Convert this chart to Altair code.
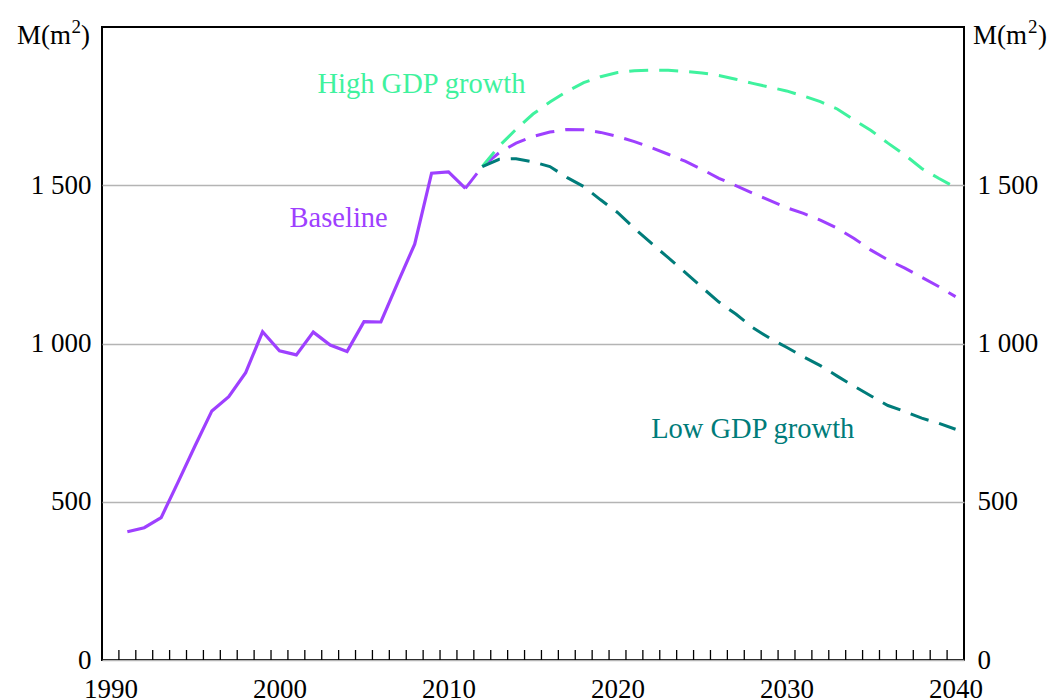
import altair as alt
import pandas as pd

# ---- data ----
hist_years = list(range(1991, 2012))
baseline_hist = [405, 418, 450, 562, 676, 787, 832, 908, 1037, 977, 964,
                 1036, 995, 975, 1069, 1068, 1192, 1314, 1538, 1542, 1490]

proj_years = list(range(2012, 2041))
baseline_proj = [1559, 1603, 1633, 1654, 1668, 1676, 1675, 1667, 1654, 1638,
                 1619, 1598, 1576, 1550, 1522, 1499, 1475, 1452, 1429, 1411,
                 1390, 1364, 1332, 1295, 1264, 1238, 1209, 1180, 1148]
high_proj = [1559, 1624, 1677, 1725, 1763, 1796, 1824, 1843, 1856, 1862,
             1864, 1863, 1860, 1855, 1847, 1835, 1822, 1810, 1798, 1782,
             1764, 1741, 1706, 1673, 1633, 1596, 1553, 1522, 1493]
low_proj = [1559, 1582, 1584, 1574, 1559, 1525, 1496, 1454, 1414, 1364,
            1317, 1271, 1225, 1177, 1131, 1093, 1050, 1017, 988, 958,
            930, 897, 865, 834, 804, 785, 764, 748, 729]

series_names = ["Baseline", "High GDP growth", "Low GDP growth"]
y_tick_values = [0, 500, 1000, 1500]
x_label_years = [1990, 2000, 2010, 2020, 2030, 2040]
minor_tick_years = list(range(1991, 2041))
unit_main = "M(m"
unit_sup = "2"
unit_close = ")"

annot_text = ["High GDP growth", "Baseline", "Low GDP growth"]
annot_year = [2008.9, 2004.0, 2028.5]
annot_value = [1791, 1367, 700]

# ---- styling ----
W, H = 862, 633
FONT = "Liberation Serif"
FS = 27
FS_ANNOT = 28.5
PURPLE, GREEN, TEAL = "#9E40FF", "#3FF29E", "#007C7A"
series_colors = [PURPLE, GREEN, TEAL]
annot_colors = [GREEN, PURPLE, TEAL]

hist_df = pd.DataFrame({"year": hist_years, "value": baseline_hist})

rows = [(series_names[0], hist_years[-1], baseline_hist[-1])]
rows += [(series_names[0], y, v) for y, v in zip(proj_years, baseline_proj)]
rows += [(series_names[1], y, v) for y, v in zip(proj_years, high_proj)]
rows += [(series_names[2], y, v) for y, v in zip(proj_years, low_proj)]
proj_df = pd.DataFrame(rows, columns=["series", "year", "value"])

annot_df = pd.DataFrame({"label": annot_text, "year": annot_year,
                         "value": annot_value, "color": annot_colors})
ticks_df = pd.DataFrame({"year": minor_tick_years})

xscale = alt.Scale(domain=[1990, 2041], nice=False, zero=False)
yscale = alt.Scale(domain=[0, 2000], nice=False)
cscale = alt.Scale(domain=series_names, range=series_colors)

x_axis = alt.Axis(values=[y + 0.5 for y in x_label_years],
                  labelExpr="format(floor(datum.value), 'd')",
                  title=None, ticks=False, tickSize=0, domain=False, grid=False,
                  labelFont=FONT, labelFontSize=FS, labelColor="black",
                  labelBaseline="alphabetic", labelPadding=37, labelFlush=False)

ylab = ("datum.value >= 1000 ? floor(datum.value/1000) + ' ' + "
        "format(datum.value % 1000, '03d') : format(datum.value, 'd')")
y_left = alt.Axis(values=y_tick_values, labelExpr=ylab, title=None,
                  ticks=False, domain=False, grid=True, gridColor="#b4b4b4",
                  gridWidth=1.5, labelFont=FONT, labelFontSize=FS,
                  labelColor="black", labelPadding=11, labelFlush=False)
y_right = alt.Axis(values=y_tick_values, labelExpr=ylab, title=None,
                   orient="right", ticks=False, domain=False, grid=False,
                   labelFont=FONT, labelFontSize=FS, labelColor="black",
                   labelPadding=13, labelFlush=False)

X_year = alt.X("xpos:Q", scale=xscale, axis=x_axis)

hist = alt.Chart(hist_df).transform_calculate(
    xpos="datum.year + 0.5"
).mark_line(color=PURPLE, strokeWidth=3.2).encode(
    x=X_year,
    y=alt.Y("value:Q", scale=yscale, axis=y_left),
)

proj = alt.Chart(proj_df).transform_calculate(
    xpos="datum.year + 0.5"
).mark_line(strokeWidth=3, strokeDash=[19, 11]).encode(
    x=X_year,
    y=alt.Y("value:Q", scale=yscale, axis=y_right),
    color=alt.Color("series:N", scale=cscale, legend=None),
)

ticks = alt.Chart(ticks_df).transform_calculate(
    xpos="datum.year"
).mark_rule(color="black", strokeWidth=1.3).encode(
    x=X_year,
    y=alt.value(H), y2=alt.value(H - 10),
)

annots = alt.Chart(annot_df).transform_calculate(
    xpos="datum.year"
).mark_text(
    font=FONT, fontSize=FS_ANNOT, align="center", baseline="alphabetic"
).encode(
    x=X_year,
    y=alt.Y("value:Q", scale=yscale, axis=None),
    text="label:N",
    color=alt.Color("color:N", scale=None),
)


def unit_piece(text, x, y, align, size):
    df = pd.DataFrame({"t": [text]})
    return alt.Chart(df).mark_text(
        font=FONT, fontSize=size, align=align, baseline="alphabetic",
        color="black"
    ).encode(x=alt.value(x), y=alt.value(y), text="t:N")


BASE_Y = 17
SUP_Y = 6
units = [
    unit_piece(unit_close, -12, BASE_Y, "right", FS),
    unit_piece(unit_sup, -21, SUP_Y, "right", 19),
    unit_piece(unit_main, -31, BASE_Y, "right", FS),
    unit_piece(unit_main, W + 9, BASE_Y, "left", FS),
    unit_piece(unit_sup, W + 64, SUP_Y, "left", 19),
    unit_piece(unit_close, W + 74, BASE_Y, "left", FS),
]

chart = alt.layer(hist, proj, ticks, annots, *units).resolve_axis(
    y="independent"
).properties(
    width=W, height=H,
    autosize=alt.AutoSizeParams(type="none"),
    padding={"left": 94, "top": 19, "right": 86, "bottom": 39},
    background="white",
).configure_view(stroke="black", strokeWidth=2)

chart.save("out.html", embed_options={"renderer": "svg", "actions": False})
